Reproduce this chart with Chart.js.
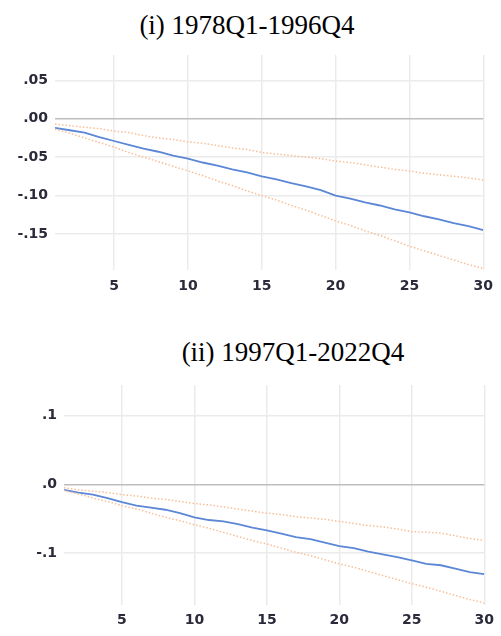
<!DOCTYPE html>
<html>
<head>
<meta charset="utf-8">
<script src="https://cdn.jsdelivr.net/npm/chart.js@4"></script>
<style>
  html, body { margin: 0; padding: 0; background: #fff; }
  body { width: 501px; height: 636px; position: relative; overflow: hidden; }
  .title { position: absolute; font-family: "Liberation Serif", "Times New Roman", serif; font-size: 27px; line-height: 30px; color: #000; white-space: nowrap; text-align: center; width: 300px; }
  canvas { position: absolute; left: 0; }
</style>
</head>
<body>
<div class="title" id="t1" style="left:97px; top:10px;">(i) 1978Q1-1996Q4</div>
<div class="title" id="t2" style="left:143px; top:337px;">(ii) 1997Q1-2022Q4</div>
<canvas id="c1" width="501" height="305" style="top:0px"></canvas>
<canvas id="c2" width="501" height="316" style="top:320px"></canvas>
<script>
// Horizons (quarters)
const horizons = [1,2,3,4,5,6,7,8,9,10,11,12,13,14,15,16,17,18,19,20,21,22,23,24,25,26,27,28,29,30];

// Panel (i) 1978Q1-1996Q4
const p1Response = [-0.012,-0.015,-0.018,-0.024,-0.029,-0.034,-0.039,-0.043,-0.048,-0.052,-0.057,-0.061,-0.066,-0.070,-0.075,-0.079,-0.084,-0.088,-0.093,-0.100,-0.104,-0.109,-0.113,-0.118,-0.122,-0.127,-0.131,-0.136,-0.140,-0.145];
const p1Upper = [-0.007,-0.009,-0.011,-0.013,-0.016,-0.018,-0.022,-0.025,-0.027,-0.030,-0.032,-0.035,-0.038,-0.040,-0.044,-0.046,-0.048,-0.050,-0.052,-0.055,-0.057,-0.060,-0.063,-0.066,-0.068,-0.071,-0.073,-0.075,-0.077,-0.080];
const p1Lower = [-0.0135,-0.019,-0.025,-0.031,-0.037,-0.044,-0.050,-0.056,-0.062,-0.068,-0.074,-0.081,-0.087,-0.094,-0.100,-0.106,-0.113,-0.119,-0.126,-0.133,-0.139,-0.146,-0.152,-0.159,-0.166,-0.172,-0.178,-0.184,-0.190,-0.195];

// Panel (ii) 1997Q1-2022Q4
const p2Response = [-0.008,-0.012,-0.015,-0.020,-0.026,-0.031,-0.034,-0.037,-0.042,-0.048,-0.052,-0.054,-0.058,-0.063,-0.067,-0.072,-0.077,-0.080,-0.085,-0.090,-0.093,-0.098,-0.102,-0.106,-0.111,-0.116,-0.118,-0.123,-0.128,-0.131];
const p2Upper = [-0.005,-0.008,-0.010,-0.012,-0.015,-0.017,-0.020,-0.022,-0.025,-0.028,-0.030,-0.033,-0.036,-0.039,-0.042,-0.044,-0.047,-0.049,-0.051,-0.054,-0.057,-0.060,-0.062,-0.065,-0.069,-0.070,-0.071,-0.075,-0.079,-0.082];
const p2Lower = [-0.009,-0.014,-0.020,-0.025,-0.031,-0.036,-0.042,-0.048,-0.053,-0.059,-0.064,-0.070,-0.076,-0.082,-0.087,-0.093,-0.099,-0.104,-0.110,-0.116,-0.121,-0.127,-0.133,-0.139,-0.145,-0.150,-0.156,-0.162,-0.168,-0.173];

// Tick labels
const xTicks = [5,10,15,20,25,30];
const p1YTicks = [0.05, 0.00, -0.05, -0.10, -0.15];
const p2YTicks = [0.1, 0.0, -0.1];

function pts(vals){ return horizons.map((h,i)=>({x:h, y:vals[i]})); }
function fmt(v, d){ return v.toFixed(d).replace(/^(-?)0\./, '$1.').replace(/^-(\.0+)$/, '$1'); }

function makeChart(id, resp, up, lo, yTicks, decimals, yMin, yMax, cfg){
  const tickFont = { family: 'DejaVu Sans', size: 14, weight: 'bold' };
  return new Chart(document.getElementById(id), {
    type: 'line',
    data: {
      datasets: [
        { data: pts(up), borderColor: '#f7bf98', borderWidth: 1.5, borderDash: [1.5, 2], pointRadius: 0, tension: 0, fill: false },
        { data: pts(lo), borderColor: '#f7bf98', borderWidth: 1.5, borderDash: [1.5, 2], pointRadius: 0, tension: 0, fill: false },
        { data: pts(resp), borderColor: '#5b87d6', borderWidth: 1.8, pointRadius: 0, tension: 0, fill: false }
      ]
    },
    options: {
      responsive: false,
      animation: false,
      events: [],
      layout: { padding: { top: cfg.top, right: cfg.right, left: 0, bottom: 0 } },
      plugins: { legend: { display: false }, title: { display: false }, tooltip: { enabled: false } },
      scales: {
        x: {
          type: 'linear', min: 1, max: 30,
          afterBuildTicks: s => { s.ticks = xTicks.map(v => ({ value: v })); },
          afterFit: s => { s.height = cfg.xh; },
          grid: { color: '#ebebeb', lineWidth: 1.5, drawTicks: false },
          border: { display: false },
          ticks: { font: tickFont, color: '#2a2a3a', padding: cfg.xpad, maxRotation: 0, callback: v => String(v) }
        },
        y: {
          type: 'linear', min: yMin, max: yMax,
          afterBuildTicks: s => { s.ticks = yTicks.map(v => ({ value: v })); },
          afterFit: s => { s.width = cfg.left; },
          grid: { color: c => (c.tick && Math.abs(c.tick.value) < 1e-9) ? '#bdbdbd' : '#ebebeb', lineWidth: 1.5, drawTicks: false },
          border: { display: false },
          ticks: { font: tickFont, color: '#2a2a3a', padding: 7, callback: v => fmt(v, decimals) }
        }
      }
    }
  });
}

makeChart('c1', p1Response, p1Upper, p1Lower, p1YTicks, 2, -0.197, 0.083,
  { top: 55, right: 13, left: 55, xh: 35, xpad: 8 });
makeChart('c2', p2Response, p2Upper, p2Lower, p2YTicks, 1, -0.176, 0.145,
  { top: 65, right: 12, left: 64, xh: 31, xpad: 7 });
</script>
</body>
</html>
